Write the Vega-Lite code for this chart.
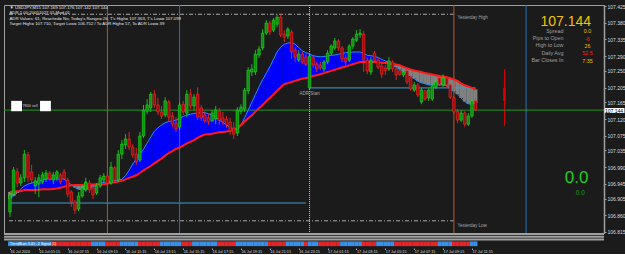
{
"$schema": "https://vega.github.io/schema/vega-lite/v6.json",
"background": "#1b1b1b",
"padding": {"left": 3, "top": 3, "right": 0, "bottom": 0},
"spacing": 0,
"bounds": "flush",
"config": {"view": {"stroke": null}, "font": "Liberation Sans"},
"datasets": {"bars": [
{"t":"2020-07-16T03:15Z","o":106.869,"h":106.923,"l":106.855,"c":106.915,"f":106.904,"s":106.923,"tr":"u"},
{"t":"2020-07-16T03:30Z","o":106.917,"h":106.990,"l":106.912,"c":106.982,"f":106.912,"s":106.924,"tr":"u"},
{"t":"2020-07-16T03:45Z","o":106.977,"h":106.988,"l":106.936,"c":106.947,"f":106.920,"s":106.925,"tr":"u"},
{"t":"2020-07-16T04:00Z","o":106.947,"h":106.971,"l":106.939,"c":106.961,"f":106.931,"s":106.925,"tr":"u"},
{"t":"2020-07-16T04:15Z","o":106.961,"h":107.036,"l":106.950,"c":107.025,"f":106.939,"s":106.928,"tr":"u"},
{"t":"2020-07-16T04:30Z","o":107.023,"h":107.031,"l":106.950,"c":106.963,"f":106.944,"s":106.928,"tr":"u"},
{"t":"2020-07-16T04:45Z","o":106.977,"h":106.996,"l":106.944,"c":106.955,"f":106.947,"s":106.928,"tr":"u"},
{"t":"2020-07-16T05:00Z","o":106.939,"h":106.963,"l":106.917,"c":106.953,"f":106.950,"s":106.928,"tr":"u"},
{"t":"2020-07-16T05:15Z","o":106.944,"h":106.971,"l":106.909,"c":106.961,"f":106.953,"s":106.929,"tr":"u"},
{"t":"2020-07-16T05:30Z","o":106.950,"h":106.977,"l":106.944,"c":106.969,"f":106.955,"s":106.930,"tr":"u"},
{"t":"2020-07-16T05:45Z","o":106.958,"h":106.982,"l":106.950,"c":106.974,"f":106.958,"s":106.930,"tr":"u"},
{"t":"2020-07-16T06:00Z","o":106.974,"h":106.979,"l":106.953,"c":106.958,"f":106.958,"s":106.930,"tr":"u"},
{"t":"2020-07-16T06:15Z","o":106.955,"h":106.977,"l":106.944,"c":106.969,"f":106.958,"s":106.931,"tr":"d"},
{"t":"2020-07-16T06:30Z","o":106.961,"h":106.982,"l":106.953,"c":106.977,"f":106.958,"s":106.932,"tr":"d"},
{"t":"2020-07-16T06:45Z","o":106.969,"h":106.974,"l":106.944,"c":106.950,"f":106.958,"s":106.934,"tr":"d"},
{"t":"2020-07-16T07:00Z","o":106.977,"h":106.985,"l":106.955,"c":106.958,"f":106.958,"s":106.937,"tr":"d"},
{"t":"2020-07-16T07:15Z","o":106.955,"h":106.961,"l":106.909,"c":106.917,"f":106.950,"s":106.939,"tr":"d"},
{"t":"2020-07-16T07:30Z","o":106.923,"h":106.928,"l":106.882,"c":106.896,"f":106.942,"s":106.941,"tr":"d"},
{"t":"2020-07-16T07:45Z","o":106.896,"h":106.901,"l":106.863,"c":106.874,"f":106.935,"s":106.942,"tr":"d"},
{"t":"2020-07-16T08:00Z","o":106.877,"h":106.923,"l":106.871,"c":106.912,"f":106.930,"s":106.942,"tr":"d"},
{"t":"2020-07-16T08:15Z","o":106.912,"h":106.942,"l":106.907,"c":106.934,"f":106.929,"s":106.942,"tr":"d"},
{"t":"2020-07-16T08:30Z","o":106.928,"h":106.961,"l":106.923,"c":106.950,"f":106.930,"s":106.943,"tr":"d"},
{"t":"2020-07-16T08:45Z","o":106.947,"h":106.955,"l":106.920,"c":106.928,"f":106.933,"s":106.943,"tr":"d"},
{"t":"2020-07-16T09:00Z","o":106.934,"h":106.944,"l":106.904,"c":106.915,"f":106.937,"s":106.943,"tr":"u"},
{"t":"2020-07-16T09:15Z","o":106.920,"h":106.947,"l":106.915,"c":106.939,"f":106.942,"s":106.944,"tr":"u"},
{"t":"2020-07-16T09:30Z","o":106.939,"h":106.969,"l":106.934,"c":106.961,"f":106.945,"s":106.944,"tr":"u"},
{"t":"2020-07-16T09:45Z","o":106.955,"h":106.974,"l":106.947,"c":106.966,"f":106.949,"s":106.944,"tr":"u"},
{"t":"2020-07-16T10:00Z","o":106.966,"h":106.971,"l":106.939,"c":106.947,"f":106.951,"s":106.946,"tr":"d"},
{"t":"2020-07-16T10:15Z","o":106.947,"h":107.004,"l":106.942,"c":106.990,"f":106.952,"s":106.948,"tr":"d"},
{"t":"2020-07-16T10:30Z","o":106.988,"h":106.993,"l":106.947,"c":106.955,"f":106.953,"s":106.949,"tr":"d"},
{"t":"2020-07-16T10:45Z","o":106.955,"h":107.036,"l":106.950,"c":107.025,"f":106.954,"s":106.951,"tr":"d"},
{"t":"2020-07-16T11:00Z","o":107.025,"h":107.063,"l":107.012,"c":107.052,"f":106.957,"s":106.953,"tr":"u"},
{"t":"2020-07-16T11:15Z","o":107.050,"h":107.079,"l":107.039,"c":107.066,"f":106.967,"s":106.957,"tr":"u"},
{"t":"2020-07-16T11:30Z","o":107.066,"h":107.085,"l":107.036,"c":107.044,"f":106.981,"s":106.961,"tr":"u"},
{"t":"2020-07-16T11:45Z","o":107.044,"h":107.052,"l":107.015,"c":107.023,"f":106.998,"s":106.964,"tr":"u"},
{"t":"2020-07-16T12:00Z","o":107.025,"h":107.042,"l":106.996,"c":107.004,"f":107.012,"s":106.968,"tr":"u"},
{"t":"2020-07-16T12:15Z","o":107.009,"h":107.085,"l":107.004,"c":107.074,"f":107.025,"s":106.974,"tr":"d"},
{"t":"2020-07-16T12:30Z","o":107.074,"h":107.158,"l":107.069,"c":107.144,"f":107.038,"s":106.981,"tr":"d"},
{"t":"2020-07-16T12:45Z","o":107.141,"h":107.174,"l":107.133,"c":107.158,"f":107.055,"s":106.987,"tr":"d"},
{"t":"2020-07-16T13:00Z","o":107.150,"h":107.193,"l":107.139,"c":107.187,"f":107.071,"s":106.993,"tr":"d"},
{"t":"2020-07-16T13:15Z","o":107.187,"h":107.198,"l":107.150,"c":107.158,"f":107.087,"s":107.000,"tr":"d"},
{"t":"2020-07-16T13:30Z","o":107.158,"h":107.177,"l":107.131,"c":107.139,"f":107.096,"s":107.007,"tr":"d"},
{"t":"2020-07-16T13:45Z","o":107.139,"h":107.155,"l":107.120,"c":107.128,"f":107.104,"s":107.013,"tr":"u"},
{"t":"2020-07-16T14:00Z","o":107.131,"h":107.179,"l":107.125,"c":107.169,"f":107.110,"s":107.021,"tr":"u"},
{"t":"2020-07-16T14:15Z","o":107.166,"h":107.171,"l":107.112,"c":107.125,"f":107.113,"s":107.028,"tr":"u"},
{"t":"2020-07-16T14:30Z","o":107.128,"h":107.139,"l":107.098,"c":107.106,"f":107.115,"s":107.033,"tr":"u"},
{"t":"2020-07-16T14:45Z","o":107.109,"h":107.125,"l":107.085,"c":107.093,"f":107.117,"s":107.039,"tr":"u"},
{"t":"2020-07-16T15:00Z","o":107.098,"h":107.166,"l":107.090,"c":107.158,"f":107.122,"s":107.043,"tr":"u"},
{"t":"2020-07-16T15:15Z","o":107.160,"h":107.169,"l":107.131,"c":107.139,"f":107.127,"s":107.048,"tr":"d"},
{"t":"2020-07-16T15:30Z","o":107.136,"h":107.198,"l":107.125,"c":107.187,"f":107.131,"s":107.054,"tr":"d"},
{"t":"2020-07-16T15:45Z","o":107.187,"h":107.201,"l":107.147,"c":107.155,"f":107.133,"s":107.058,"tr":"d"},
{"t":"2020-07-16T16:00Z","o":107.155,"h":107.187,"l":107.144,"c":107.179,"f":107.135,"s":107.063,"tr":"u"},
{"t":"2020-07-16T16:15Z","o":107.187,"h":107.206,"l":107.117,"c":107.125,"f":107.136,"s":107.069,"tr":"u"},
{"t":"2020-07-16T16:30Z","o":107.150,"h":107.158,"l":107.115,"c":107.123,"f":107.138,"s":107.074,"tr":"u"},
{"t":"2020-07-16T16:45Z","o":107.131,"h":107.141,"l":107.109,"c":107.115,"f":107.137,"s":107.078,"tr":"u"},
{"t":"2020-07-16T17:00Z","o":107.123,"h":107.133,"l":107.104,"c":107.112,"f":107.134,"s":107.079,"tr":"u"},
{"t":"2020-07-16T17:15Z","o":107.115,"h":107.144,"l":107.112,"c":107.136,"f":107.131,"s":107.080,"tr":"u"},
{"t":"2020-07-16T17:30Z","o":107.120,"h":107.155,"l":107.106,"c":107.144,"f":107.125,"s":107.082,"tr":"u"},
{"t":"2020-07-16T17:45Z","o":107.141,"h":107.150,"l":107.104,"c":107.117,"f":107.117,"s":107.084,"tr":"d"},
{"t":"2020-07-16T18:00Z","o":107.123,"h":107.139,"l":107.104,"c":107.112,"f":107.111,"s":107.085,"tr":"d"},
{"t":"2020-07-16T18:15Z","o":107.120,"h":107.128,"l":107.096,"c":107.104,"f":107.104,"s":107.086,"tr":"d"},
{"t":"2020-07-16T18:30Z","o":107.112,"h":107.123,"l":107.077,"c":107.087,"f":107.097,"s":107.088,"tr":"d"},
{"t":"2020-07-16T18:45Z","o":107.096,"h":107.112,"l":107.066,"c":107.079,"f":107.093,"s":107.090,"tr":"d"},
{"t":"2020-07-16T19:00Z","o":107.082,"h":107.152,"l":107.074,"c":107.144,"f":107.093,"s":107.095,"tr":"u"},
{"t":"2020-07-16T19:15Z","o":107.141,"h":107.160,"l":107.133,"c":107.152,"f":107.103,"s":107.104,"tr":"u"},
{"t":"2020-07-16T19:30Z","o":107.147,"h":107.204,"l":107.139,"c":107.198,"f":107.123,"s":107.113,"tr":"u"},
{"t":"2020-07-16T19:45Z","o":107.196,"h":107.260,"l":107.187,"c":107.252,"f":107.144,"s":107.122,"tr":"u"},
{"t":"2020-07-16T20:00Z","o":107.247,"h":107.268,"l":107.236,"c":107.255,"f":107.165,"s":107.130,"tr":"u"},
{"t":"2020-07-16T20:15Z","o":107.247,"h":107.306,"l":107.239,"c":107.295,"f":107.186,"s":107.140,"tr":"u"},
{"t":"2020-07-16T20:30Z","o":107.293,"h":107.317,"l":107.285,"c":107.309,"f":107.207,"s":107.149,"tr":"u"},
{"t":"2020-07-16T20:45Z","o":107.312,"h":107.363,"l":107.306,"c":107.352,"f":107.226,"s":107.158,"tr":"u"},
{"t":"2020-07-16T21:00Z","o":107.352,"h":107.387,"l":107.347,"c":107.379,"f":107.243,"s":107.168,"tr":"u"},
{"t":"2020-07-16T21:15Z","o":107.379,"h":107.385,"l":107.347,"c":107.355,"f":107.261,"s":107.177,"tr":"d"},
{"t":"2020-07-16T21:30Z","o":107.360,"h":107.393,"l":107.355,"c":107.387,"f":107.281,"s":107.186,"tr":"d"},
{"t":"2020-07-16T21:45Z","o":107.376,"h":107.403,"l":107.368,"c":107.395,"f":107.301,"s":107.196,"tr":"d"},
{"t":"2020-07-16T22:00Z","o":107.395,"h":107.403,"l":107.341,"c":107.347,"f":107.314,"s":107.205,"tr":"d"},
{"t":"2020-07-16T22:15Z","o":107.349,"h":107.360,"l":107.328,"c":107.341,"f":107.322,"s":107.214,"tr":"d"},
{"t":"2020-07-16T22:30Z","o":107.344,"h":107.368,"l":107.336,"c":107.363,"f":107.325,"s":107.217,"tr":"u"},
{"t":"2020-07-16T22:45Z","o":107.355,"h":107.360,"l":107.282,"c":107.301,"f":107.327,"s":107.220,"tr":"u"},
{"t":"2020-07-16T23:00Z","o":107.306,"h":107.314,"l":107.274,"c":107.287,"f":107.322,"s":107.223,"tr":"u"},
{"t":"2020-07-16T23:15Z","o":107.279,"h":107.306,"l":107.274,"c":107.295,"f":107.313,"s":107.226,"tr":"u"},
{"t":"2020-07-16T23:30Z","o":107.295,"h":107.301,"l":107.268,"c":107.274,"f":107.304,"s":107.229,"tr":"u"},
{"t":"2020-07-16T23:45Z","o":107.287,"h":107.295,"l":107.263,"c":107.268,"f":107.299,"s":107.231,"tr":"d"},
{"t":"2020-07-17T00:00Z","o":107.204,"h":107.298,"l":107.201,"c":107.290,"f":107.295,"s":107.233,"tr":"u"},
{"t":"2020-07-17T00:15Z","o":107.287,"h":107.293,"l":107.258,"c":107.266,"f":107.291,"s":107.236,"tr":"u"},
{"t":"2020-07-17T00:30Z","o":107.268,"h":107.274,"l":107.247,"c":107.255,"f":107.289,"s":107.238,"tr":"u"},
{"t":"2020-07-17T00:45Z","o":107.266,"h":107.274,"l":107.252,"c":107.258,"f":107.288,"s":107.241,"tr":"d"},
{"t":"2020-07-17T01:00Z","o":107.255,"h":107.279,"l":107.247,"c":107.274,"f":107.289,"s":107.244,"tr":"d"},
{"t":"2020-07-17T01:15Z","o":107.274,"h":107.306,"l":107.268,"c":107.298,"f":107.290,"s":107.247,"tr":"d"},
{"t":"2020-07-17T01:30Z","o":107.298,"h":107.322,"l":107.293,"c":107.317,"f":107.292,"s":107.250,"tr":"d"},
{"t":"2020-07-17T01:45Z","o":107.312,"h":107.339,"l":107.306,"c":107.331,"f":107.293,"s":107.253,"tr":"d"},
{"t":"2020-07-17T02:00Z","o":107.331,"h":107.336,"l":107.304,"c":107.312,"f":107.295,"s":107.256,"tr":"d"},
{"t":"2020-07-17T02:15Z","o":107.312,"h":107.317,"l":107.274,"c":107.282,"f":107.297,"s":107.259,"tr":"u"},
{"t":"2020-07-17T02:30Z","o":107.285,"h":107.293,"l":107.266,"c":107.274,"f":107.299,"s":107.262,"tr":"u"},
{"t":"2020-07-17T02:45Z","o":107.279,"h":107.322,"l":107.274,"c":107.317,"f":107.300,"s":107.265,"tr":"u"},
{"t":"2020-07-17T03:00Z","o":107.317,"h":107.341,"l":107.309,"c":107.336,"f":107.301,"s":107.268,"tr":"u"},
{"t":"2020-07-17T03:15Z","o":107.333,"h":107.360,"l":107.328,"c":107.349,"f":107.301,"s":107.271,"tr":"u"},
{"t":"2020-07-17T03:30Z","o":107.347,"h":107.363,"l":107.339,"c":107.352,"f":107.301,"s":107.274,"tr":"u"},
{"t":"2020-07-17T03:45Z","o":107.349,"h":107.358,"l":107.247,"c":107.279,"f":107.297,"s":107.274,"tr":"d"},
{"t":"2020-07-17T04:00Z","o":107.279,"h":107.285,"l":107.241,"c":107.250,"f":107.292,"s":107.274,"tr":"d"},
{"t":"2020-07-17T04:15Z","o":107.247,"h":107.287,"l":107.239,"c":107.279,"f":107.291,"s":107.274,"tr":"d"},
{"t":"2020-07-17T04:30Z","o":107.298,"h":107.304,"l":107.274,"c":107.279,"f":107.289,"s":107.274,"tr":"d"},
{"t":"2020-07-17T04:45Z","o":107.279,"h":107.285,"l":107.255,"c":107.260,"f":107.286,"s":107.273,"tr":"u"},
{"t":"2020-07-17T05:00Z","o":107.263,"h":107.271,"l":107.231,"c":107.241,"f":107.281,"s":107.272,"tr":"u"},
{"t":"2020-07-17T05:15Z","o":107.258,"h":107.266,"l":107.239,"c":107.250,"f":107.277,"s":107.271,"tr":"u"},
{"t":"2020-07-17T05:30Z","o":107.255,"h":107.287,"l":107.250,"c":107.277,"f":107.272,"s":107.270,"tr":"u"},
{"t":"2020-07-17T05:45Z","o":107.274,"h":107.279,"l":107.247,"c":107.255,"f":107.266,"s":107.269,"tr":"u"},
{"t":"2020-07-17T06:00Z","o":107.255,"h":107.260,"l":107.225,"c":107.239,"f":107.260,"s":107.267,"tr":"d"},
{"t":"2020-07-17T06:15Z","o":107.250,"h":107.255,"l":107.236,"c":107.241,"f":107.254,"s":107.265,"tr":"d"},
{"t":"2020-07-17T06:30Z","o":107.239,"h":107.252,"l":107.233,"c":107.247,"f":107.248,"s":107.261,"tr":"d"},
{"t":"2020-07-17T06:45Z","o":107.250,"h":107.255,"l":107.214,"c":107.220,"f":107.242,"s":107.257,"tr":"d"},
{"t":"2020-07-17T07:00Z","o":107.233,"h":107.239,"l":107.196,"c":107.201,"f":107.236,"s":107.254,"tr":"d"},
{"t":"2020-07-17T07:15Z","o":107.198,"h":107.220,"l":107.193,"c":107.212,"f":107.229,"s":107.251,"tr":"d"},
{"t":"2020-07-17T07:30Z","o":107.212,"h":107.217,"l":107.179,"c":107.185,"f":107.222,"s":107.249,"tr":"d"},
{"t":"2020-07-17T07:45Z","o":107.166,"h":107.204,"l":107.160,"c":107.198,"f":107.218,"s":107.247,"tr":"d"},
{"t":"2020-07-17T08:00Z","o":107.196,"h":107.198,"l":107.169,"c":107.174,"f":107.215,"s":107.244,"tr":"d"},
{"t":"2020-07-17T08:15Z","o":107.177,"h":107.204,"l":107.169,"c":107.198,"f":107.212,"s":107.242,"tr":"d"},
{"t":"2020-07-17T08:30Z","o":107.174,"h":107.214,"l":107.169,"c":107.209,"f":107.212,"s":107.240,"tr":"d"},
{"t":"2020-07-17T08:45Z","o":107.206,"h":107.225,"l":107.201,"c":107.220,"f":107.212,"s":107.238,"tr":"d"},
{"t":"2020-07-17T09:00Z","o":107.231,"h":107.239,"l":107.209,"c":107.214,"f":107.212,"s":107.236,"tr":"u"},
{"t":"2020-07-17T09:15Z","o":107.212,"h":107.241,"l":107.206,"c":107.231,"f":107.212,"s":107.235,"tr":"u"},
{"t":"2020-07-17T09:30Z","o":107.231,"h":107.236,"l":107.206,"c":107.212,"f":107.210,"s":107.233,"tr":"u"},
{"t":"2020-07-17T09:45Z","o":107.212,"h":107.217,"l":107.174,"c":107.179,"f":107.203,"s":107.230,"tr":"u"},
{"t":"2020-07-17T10:00Z","o":107.177,"h":107.182,"l":107.133,"c":107.139,"f":107.195,"s":107.227,"tr":"d"},
{"t":"2020-07-17T10:15Z","o":107.141,"h":107.147,"l":107.109,"c":107.117,"f":107.187,"s":107.223,"tr":"d"},
{"t":"2020-07-17T10:30Z","o":107.117,"h":107.144,"l":107.112,"c":107.136,"f":107.177,"s":107.216,"tr":"d"},
{"t":"2020-07-17T10:45Z","o":107.136,"h":107.141,"l":107.099,"c":107.106,"f":107.167,"s":107.211,"tr":"d"},
{"t":"2020-07-17T11:00Z","o":107.106,"h":107.136,"l":107.101,"c":107.128,"f":107.161,"s":107.208,"tr":"d"},
{"t":"2020-07-17T11:15Z","o":107.128,"h":107.171,"l":107.123,"c":107.169,"f":107.160,"s":107.204,"tr":"u"},
{"t":"2020-07-17T11:30Z","o":107.169,"h":107.176,"l":107.142,"c":107.144,"f":107.163,"s":107.200,"tr":"u"}
]},
"vconcat": [
{
"width": 600, "height": 228,
"view": {"stroke": "#a0a0a0", "strokeWidth": 1},
"data": {"name": "bars"},
"resolve": {"axis": {"y": "independent"}},
"layer": [
{"mark": {"type": "bar", "size": 3.8},
 "encoding": {
  "x": {"field": "t", "type": "temporal", "axis": null, "scale": {"type": "utc", "domain": [{"year":2020,"month":7,"date":16,"hours":3,"minutes":11,"utc":true},{"year":2020,"month":7,"date":17,"hours":20,"minutes":3,"utc":true}]}},
  "y": {"field": "f", "type": "quantitative", "scale": {"domain": [106.812, 107.428], "zero": false, "nice": false},
        "axis": {"orient": "right", "values": [107.425,107.38,107.335,107.29,107.25,107.205,107.165,107.12,107.075,107.035,106.99,106.945,106.905,106.86,106.815], "format": ".3f", "title": null, "grid": false, "domainColor": "#a0a0a0", "domainWidth": 1.5, "tickColor": "#a0a0a0", "tickSize": 2, "labelColor": "#dcdcdc", "labelFontSize": 5, "labelFont": "Liberation Sans", "labelPadding": 1, "labelOverlap": false, "labelFlush": false}},
  "y2": {"field": "s"},
  "color": {"condition": {"test": "datum.f >= datum.s", "value": "#0000ff"}, "value": "#808080"}
 }},
{"data": {"values": [{}]}, "mark": {"type": "rule", "color": "#3c9fd0", "strokeWidth": 1},
 "encoding": {"x": {"datum": {"year":2020,"month":7,"date":16,"hours":3,"minutes":11,"utc":true}, "type": "temporal", "axis": null},
  "x2": {"datum": {"year":2020,"month":7,"date":16,"hours":23,"minutes":45,"utc":true}},
  "y": {"datum": 106.893, "type": "quantitative", "axis": null}}},
{"data": {"values": [{}]}, "mark": {"type": "rule", "color": "#3c9fd0", "strokeWidth": 1},
 "encoding": {"x": {"datum": {"year":2020,"month":7,"date":17,"hours":0,"minutes":0,"utc":true}, "type": "temporal", "axis": null},
  "x2": {"datum": {"year":2020,"month":7,"date":17,"hours":11,"minutes":30,"utc":true}},
  "y": {"datum": 107.204, "type": "quantitative", "axis": null}}},
{"data": {"values": [{}]}, "mark": {"type": "rule", "color": "#a8a8a8", "strokeWidth": 1, "strokeDash": [4, 2, 1, 2]},
 "encoding": {"x": {"datum": {"year":2020,"month":7,"date":16,"hours":3,"minutes":11,"utc":true}, "type": "temporal", "axis": null},
  "x2": {"datum": {"year":2020,"month":7,"date":17,"hours":10,"minutes":0,"utc":true}},
  "y": {"datum": 107.403, "type": "quantitative", "axis": null}}},
{"data": {"values": [{}]}, "mark": {"type": "rule", "color": "#a8a8a8", "strokeWidth": 1, "strokeDash": [4, 2, 1, 2]},
 "encoding": {"x": {"datum": {"year":2020,"month":7,"date":16,"hours":3,"minutes":11,"utc":true}, "type": "temporal", "axis": null},
  "x2": {"datum": {"year":2020,"month":7,"date":17,"hours":10,"minutes":0,"utc":true}},
  "y": {"datum": 106.845, "type": "quantitative", "axis": null}}},
{"data": {"values": [{"t": "2020-07-16T10:00Z"}, {"t": "2020-07-17T10:00Z"}]}, "mark": {"type": "rule", "color": "#b4582a", "strokeWidth": 1},
 "encoding": {"x": {"field": "t", "type": "temporal", "axis": null}}},
{"data": {"values": [{"t": "2020-07-16T15:00Z"}, {"t": "2020-07-17T15:00Z"}]}, "mark": {"type": "rule", "color": "#2f6fb5", "strokeWidth": 1},
 "encoding": {"x": {"field": "t", "type": "temporal", "axis": null}}},
{"data": {"values": [{"t": "2020-07-17T00:00Z"}]}, "mark": {"type": "rule", "color": "#c8c8c8", "strokeWidth": 1, "strokeDash": [1, 1]},
 "encoding": {"x": {"field": "t", "type": "temporal", "axis": null}}},
{"data": {"values": [{}]}, "mark": {"type": "rule", "color": "#e00000", "strokeWidth": 1},
 "encoding": {"x": {"datum": {"year":2020,"month":7,"date":17,"hours":13,"minutes":30,"utc":true}, "type": "temporal", "axis": null},
  "y": {"datum": 107.101, "type": "quantitative", "axis": null}, "y2": {"datum": 107.255}}},
{"data": {"values": [{}]}, "mark": {"type": "rule", "color": "#e00000", "strokeWidth": 2.5},
 "encoding": {"x": {"datum": {"year":2020,"month":7,"date":17,"hours":13,"minutes":30,"utc":true}, "type": "temporal", "axis": null},
  "y": {"datum": 107.169, "type": "quantitative", "axis": null}, "y2": {"datum": 107.204}}},
{"data": {"values": [{}]}, "mark": {"type": "rule", "color": "#1f9a1f", "strokeWidth": 1},
 "encoding": {"y": {"datum": 107.144, "type": "quantitative",
  "axis": {"orient": "right", "values": [107.144], "format": ".3f", "title": null, "grid": false, "domain": false, "tickColor": "#ffffff", "tickSize": 20, "tickWidth": 5, "labelColor": "#000000", "labelFontSize": 5, "labelFont": "Liberation Sans", "labelPadding": -19.5, "labelFlush": false}}}},
{"mark": {"type": "line", "color": "#1e90ff", "strokeWidth": 1},
 "encoding": {"x": {"field": "t", "type": "temporal", "axis": null}, "y": {"field": "f", "type": "quantitative", "axis": null}}},
{"mark": {"type": "line", "color": "#ff1a1a", "strokeWidth": 2},
 "encoding": {"x": {"field": "t", "type": "temporal", "axis": null}, "y": {"field": "s", "type": "quantitative", "axis": null}}},
{"mark": {"type": "rule", "strokeWidth": 0.8},
 "encoding": {"x": {"field": "t", "type": "temporal", "axis": null}, "y": {"field": "l", "type": "quantitative", "axis": null}, "y2": {"field": "h"},
  "color": {"condition": {"test": "datum.c >= datum.o", "value": "#1ee01e"}, "value": "#ff2a2a"}}},
{"mark": {"type": "bar", "size": 2.5, "strokeWidth": 0.6},
 "encoding": {"x": {"field": "t", "type": "temporal", "axis": null}, "y": {"field": "o", "type": "quantitative", "axis": null}, "y2": {"field": "c"},
  "fill": {"condition": {"test": "datum.c >= datum.o", "value": "#0e8f0e"}, "value": "#9a0c0c"},
  "stroke": {"condition": {"test": "datum.c >= datum.o", "value": "#1ee01e"}, "value": "#ff2a2a"}}},
{"data": {"values": [{"a": "2020-07-16T03:20Z", "b": "2020-07-16T04:05Z"}, {"a": "2020-07-16T05:20Z", "b": "2020-07-16T06:05Z"}]},
 "mark": {"type": "rect", "color": "#ffffff"},
 "encoding": {"x": {"field": "a", "type": "temporal", "axis": null}, "x2": {"field": "b"},
  "y": {"datum": 107.169, "type": "quantitative", "axis": null}, "y2": {"datum": 107.141}}},
{"data": {"values": [{}]}, "mark": {"type": "text", "text": "7800 sell", "fontSize": 3.8, "color": "#c8c8c8", "align": "left", "baseline": "middle"},
 "encoding": {"x": {"datum": {"year":2020,"month":7,"date":16,"hours":4,"minutes":7,"utc":true}, "type": "temporal", "axis": null},
  "y": {"datum": 107.154, "type": "quantitative", "axis": null}}},
{"data": {"values": [{}]}, "mark": {"type": "text", "text": "ADR Start", "fontSize": 4.5, "color": "#a8a8a8", "align": "center", "baseline": "top", "dy": 3},
 "encoding": {"x": {"datum": {"year":2020,"month":7,"date":17,"hours":0,"minutes":0,"utc":true}, "type": "temporal", "axis": null},
  "y": {"datum": 107.204, "type": "quantitative", "axis": null}}},
{"data": {"values": [{}]}, "mark": {"type": "text", "text": "Yesterday High", "fontSize": 4.5, "color": "#a8a8a8", "align": "left", "baseline": "top", "dy": 1},
 "encoding": {"x": {"datum": {"year":2020,"month":7,"date":17,"hours":10,"minutes":15,"utc":true}, "type": "temporal", "axis": null},
  "y": {"datum": 107.403, "type": "quantitative", "axis": null}}},
{"data": {"values": [{}]}, "mark": {"type": "text", "text": "Yesterday Low", "fontSize": 4.5, "color": "#a8a8a8", "align": "left", "baseline": "top", "dy": 2},
 "encoding": {"x": {"datum": {"year":2020,"month":7,"date":17,"hours":10,"minutes":15,"utc":true}, "type": "temporal", "axis": null},
  "y": {"datum": 106.845, "type": "quantitative", "axis": null}}},
{"data": {"values": [{}]}, "mark": {"type": "text", "fontSize": 4.3, "color": "#e6e6e6", "align": "left", "baseline": "top", "dx": 0.5, "dy": 0.5, "lineHeight": 5.6,
  "text": ["▼ USDJPY,M15  107.169 107.176 107.142 107.144", "ADR 1.00 20051027 01.Mod 01", "ADR Values: 61, Reached= No, Today's Range= 26, T's High= 107.363, T's Low= 107.099", "Target High= 107.710, Target Low= 106.752 / To ADR High= 57, To ADR Low= 39"]},
 "encoding": {"x": {"datum": {"year":2020,"month":7,"date":16,"hours":3,"minutes":11,"utc":true}, "type": "temporal", "axis": null},
  "y": {"datum": 107.428, "type": "quantitative", "axis": null}}},
{"data": {"values": [{}]}, "mark": {"type": "text", "fontSize": 5.3, "color": "#a0a0a0", "align": "right", "baseline": "top", "lineHeight": 7.3,
  "text": ["Spread", "Pips to Open", "High to Low", "Daily Avg", "Bar Closes In"]},
 "encoding": {"x": {"datum": {"year":2020,"month":7,"date":17,"hours":17,"minutes":35,"utc":true}, "type": "temporal", "axis": null},
  "y": {"datum": 107.364, "type": "quantitative", "axis": null}}},
{"data": {"values": [{}]}, "mark": {"type": "text", "text": "0.0", "fontSize": 5.3, "color": "#e8c000", "align": "center", "baseline": "middle"},
 "encoding": {"x": {"datum": {"year":2020,"month":7,"date":17,"hours":19,"minutes":15,"utc":true}, "type": "temporal", "axis": null},
  "y": {"datum": 107.357, "type": "quantitative", "axis": null}}},
{"data": {"values": [{}]}, "mark": {"type": "text", "text": "-6", "fontSize": 5.3, "color": "#ff2020", "align": "center", "baseline": "middle"},
 "encoding": {"x": {"datum": {"year":2020,"month":7,"date":17,"hours":19,"minutes":15,"utc":true}, "type": "temporal", "axis": null},
  "y": {"datum": 107.337, "type": "quantitative", "axis": null}}},
{"data": {"values": [{}]}, "mark": {"type": "text", "text": "26", "fontSize": 5.3, "color": "#e8c000", "align": "center", "baseline": "middle"},
 "encoding": {"x": {"datum": {"year":2020,"month":7,"date":17,"hours":19,"minutes":15,"utc":true}, "type": "temporal", "axis": null},
  "y": {"datum": 107.318, "type": "quantitative", "axis": null}}},
{"data": {"values": [{}]}, "mark": {"type": "text", "text": "52.5", "fontSize": 5.3, "color": "#ff2020", "align": "center", "baseline": "middle"},
 "encoding": {"x": {"datum": {"year":2020,"month":7,"date":17,"hours":19,"minutes":15,"utc":true}, "type": "temporal", "axis": null},
  "y": {"datum": 107.298, "type": "quantitative", "axis": null}}},
{"data": {"values": [{}]}, "mark": {"type": "text", "text": "7:35", "fontSize": 5.3, "color": "#e8c000", "align": "center", "baseline": "middle"},
 "encoding": {"x": {"datum": {"year":2020,"month":7,"date":17,"hours":19,"minutes":15,"utc":true}, "type": "temporal", "axis": null},
  "y": {"datum": 107.278, "type": "quantitative", "axis": null}}},
{"data": {"values": [{}]}, "mark": {"type": "text", "text": "107.144", "fontSize": 14, "color": "#f2c200", "align": "right", "baseline": "alphabetic"},
 "encoding": {"x": {"datum": {"year":2020,"month":7,"date":17,"hours":19,"minutes":30,"utc":true}, "type": "temporal", "axis": null},
  "y": {"datum": 107.371, "type": "quantitative", "axis": null}}},
{"data": {"values": [{}]}, "mark": {"type": "text", "text": "0.0", "fontSize": 17, "color": "#22cc22", "align": "center", "baseline": "middle"},
 "encoding": {"x": {"datum": {"year":2020,"month":7,"date":17,"hours":18,"minutes":30,"utc":true}, "type": "temporal", "axis": null},
  "y": {"datum": 106.961, "type": "quantitative", "axis": null}}},
{"data": {"values": [{}]}, "mark": {"type": "text", "text": "0.0", "fontSize": 6.5, "color": "#1a9a1a", "align": "center", "baseline": "middle"},
 "encoding": {"x": {"datum": {"year":2020,"month":7,"date":17,"hours":18,"minutes":45,"utc":true}, "type": "temporal", "axis": null},
  "y": {"datum": 106.921, "type": "quantitative", "axis": null}}}
]
},
{
"width": 600, "height": 15,
"data": {"name": "bars"},
"layer": [
{"data": {"values": [{}]}, "mark": {"type": "rule", "color": "#a0a0a0", "strokeWidth": 2},
 "encoding": {"y": {"datum": 1, "type": "quantitative", "scale": {"domain": [0, 15], "reverse": true}, "axis": null}}},
{"data": {"values": [{}]}, "mark": {"type": "rule", "color": "#a0a0a0", "strokeWidth": 2},
 "encoding": {"y": {"datum": 4, "type": "quantitative", "axis": null}}},
{"data": {"values": [{}]}, "mark": {"type": "rule", "color": "#a0a0a0", "strokeWidth": 2},
 "encoding": {"y": {"datum": 7, "type": "quantitative", "axis": null}}},
{"mark": {"type": "bar", "size": 3.8},
 "encoding": {
  "x": {"field": "t", "type": "temporal", "scale": {"type": "utc", "domain": [{"year":2020,"month":7,"date":16,"hours":3,"minutes":11,"utc":true},{"year":2020,"month":7,"date":17,"hours":20,"minutes":3,"utc":true}]},
        "axis": {"orient": "bottom", "values": [1594869300000,1594876500000,1594883700000,1594890900000,1594898100000,1594905300000,1594912500000,1594919700000,1594926900000,1594934100000,1594941300000,1594948500000,1594955700000,1594962900000,1594970100000,1594977300000,1594984500000],
          "labelExpr": "utcFormat(datum.value, '%d %H:%M') == '16 03:15' ? '16 Jul 2020' : utcFormat(datum.value, '%d %b %H:%M')",
          "labelAlign": "left", "labelFontSize": 3.8, "labelFont": "Liberation Sans", "labelColor": "#d8d8d8", "labelPadding": 0, "labelOverlap": false, "labelSeparation": 0, "labelFlush": false,
          "tickColor": "#a0a0a0", "tickSize": 1.5, "domain": false, "grid": false, "title": null}},
  "y": {"datum": 9, "type": "quantitative", "axis": null}, "y2": {"datum": 14},
  "color": {"field": "tr", "type": "nominal", "scale": {"domain": ["u", "d"], "range": ["#3b8fe6", "#e3262c"]}, "legend": null}
 }},
{"data": {"values": [{}]}, "mark": {"type": "text", "text": "TrendBars 3.45 - 2 Signal (1)", "fontSize": 3.6, "color": "#ffffff", "align": "left", "baseline": "middle", "dx": 1},
 "encoding": {"x": {"datum": {"year":2020,"month":7,"date":16,"hours":3,"minutes":11,"utc":true}, "type": "temporal",
        "axis": {"orient": "bottom", "values": [1594869300000,1594876500000,1594883700000,1594890900000,1594898100000,1594905300000,1594912500000,1594919700000,1594926900000,1594934100000,1594941300000,1594948500000,1594955700000,1594962900000,1594970100000,1594977300000,1594984500000],
          "labelExpr": "utcFormat(datum.value, '%d %H:%M') == '16 03:15' ? '16 Jul 2020' : utcFormat(datum.value, '%d %b %H:%M')",
          "labelAlign": "left", "labelFontSize": 3.8, "labelFont": "Liberation Sans", "labelColor": "#d8d8d8", "labelPadding": 0, "labelOverlap": false, "labelSeparation": 0, "labelFlush": false,
          "tickColor": "#a0a0a0", "tickSize": 1.5, "domain": false, "grid": false, "title": null}},
  "y": {"datum": 11.5, "type": "quantitative", "axis": null}}}
]
}
]
}
